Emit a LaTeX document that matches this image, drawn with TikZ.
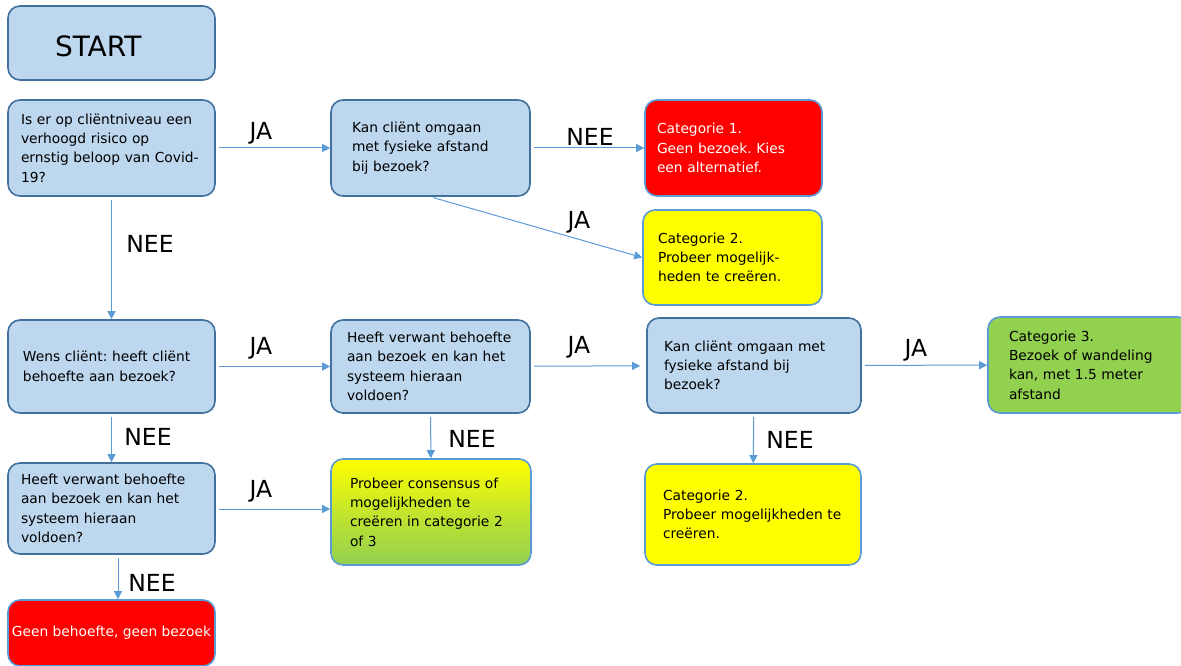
\documentclass[tikz,border=0pt]{standalone}
\usepackage{fontspec}
\setmainfont{DejaVu Sans}
\frenchspacing
\usetikzlibrary{arrows.meta}
\tikzset{>={Triangle[length=8pt,width=8pt]}}
\definecolor{vraagblauw}{HTML}{BDD7EE}
\definecolor{randblauw}{HTML}{41719C}
\definecolor{pijlblauw}{HTML}{5B9BD5}
\definecolor{catgroen}{HTML}{92D050}
\definecolor{catgeel}{HTML}{FFFF00}
\definecolor{catrood}{HTML}{FF0000}
\tikzset{
  doos/.style={rectangle, rounded corners=12pt, line width=1.6pt, align=left,
    inner ysep=0pt, font=\fontsize{13.8}{19.3}\selectfont},
  vraag/.style={doos, draw=randblauw, fill=vraagblauw},
  categorie/.style={doos, draw=pijlblauw, fill=#1},
  pijl/.style={->, pijlblauw, line width=1pt, shorten <=3pt},
  antwoord/.style={font=\fontsize{23.5}{24}\selectfont, inner sep=0pt}
}

\begin{document}
\begin{tikzpicture}[x=1pt, y=-1pt]
            \useasboundingbox (0,0) rectangle (1181,666);
            \node[vraag, minimum width=207pt, minimum height=74pt, inner xsep=47pt, text width=113pt,
              text height=28pt, text depth=0pt, font=\fontsize{28}{28}\selectfont] (start) at (111.5,43) {START};
            \node[vraag, minimum height=96pt, inner xsep=13pt, text width=181pt] (risico) at (111.5,148)
              {Is er op cliëntniveau een\\verhoogd risico op\\ernstig beloop van Covid-\\19?};
            \node[vraag, minimum height=96pt, inner xsep=21pt, text width=157pt] (afstand) at (430.5,148)
              {Kan cliënt omgaan\\met fysieke afstand\\bij bezoek?};
            \node[categorie=catrood, text=white, minimum height=96pt, inner xsep=12pt, text width=153pt] (cateen) at (733.5,148)
              {Categorie 1.\\Geen bezoek. Kies\\een alternatief.};
            \node[categorie=catgeel, minimum height=95pt, inner xsep=15pt, text width=149pt] (cattwee) at (732.5,257.5)
              {Categorie 2.\\Probeer mogelijk-\\heden te creëren.};
            \node[vraag, minimum height=93pt, inner xsep=15pt, text width=177pt] (wens) at (111.5,366.5)
              {Wens cliënt: heeft cliënt\\behoefte aan bezoek?};
            \node[vraag, minimum height=93pt, inner xsep=16pt, text width=167pt] (verwant) at (430.5,366.5)
              {Heeft verwant behoefte\\aan bezoek en kan het\\systeem hieraan\\voldoen?};
            \node[vraag, minimum height=95pt, inner xsep=17pt, text width=180pt] (fysiek) at (754,365.5)
              {Kan cliënt omgaan met\\fysieke afstand bij\\bezoek?};
            \node[categorie=catgroen, minimum height=96pt, inner xsep=21pt, text width=160pt] (catdrie) at (1089,365)
              {Categorie 3.\\Bezoek of wandeling\\kan, met 1.5 meter\\afstand};
            \node[vraag, minimum height=91pt, inner xsep=13pt, text width=181pt] (verwanttwee) at (111.5,508.5)
              {Heeft verwant behoefte\\aan bezoek en kan het\\systeem hieraan\\voldoen?};
            \node[doos, draw=pijlblauw, top color=catgeel, bottom color=catgroen, middle color=catgeel!45!catgroen,
              minimum height=106pt, inner xsep=19pt, text width=162pt] (consensus) at (431,512)
              {Probeer consensus of\\mogelijkheden te\\creëren in categorie 2\\of 3};
            \node[categorie=catgeel, minimum height=101pt, inner xsep=18pt, text width=180pt] (cattweeb) at (753,514.5)
              {Categorie 2.\\Probeer mogelijkheden te\\creëren.};
            \node[categorie=catrood, text=white, align=center, minimum width=207pt, minimum height=66pt,
              inner xsep=1pt] (geen) at (111.5,633) {Geen behoefte, geen bezoek};

            \draw[pijl] (risico) -- (afstand);
            \draw[pijl] (risico) -- (wens);
            \draw[pijl] (afstand) -- (cateen);
            \draw[pijl] (afstand.south) -- (cattwee.west);
            \draw[pijl] (wens) -- (verwant);
            \draw[pijl] (wens) -- (verwanttwee);
            \draw[pijl, shorten >=6pt] (verwant) -- (fysiek);
            \draw[pijl] (verwant) -- (consensus);
            \draw[pijl] (fysiek) -- (catdrie);
            \draw[pijl] (fysiek) -- (cattweeb);
            \draw[pijl] (verwanttwee.east |- 0,509) -- (consensus.west |- 0,509);
            \draw[pijl] ([xshift=6.5pt]verwanttwee.south) -- ([xshift=6.5pt]geen.north);

            \node[antwoord] (ja1) at (261,133) {JA};
            \node[antwoord] (nee1) at (150,244) {NEE};
            \node[antwoord] (nee2) at (590,137) {NEE};
            \node[antwoord] (ja2) at (579,222) {JA};
            \node[antwoord] (ja3) at (261,348) {JA};
            \node[antwoord] (nee3) at (148,437) {NEE};
            \node[antwoord] (ja4) at (579,347) {JA};
            \node[antwoord] (nee4) at (472,439) {NEE};
            \node[antwoord] (ja5) at (916,350) {JA};
            \node[antwoord] (nee5) at (790,440) {NEE};
            \node[antwoord] (ja6) at (261,491) {JA};
            \node[antwoord] (nee6) at (152,583) {NEE};
        \end{tikzpicture}
\end{document}
